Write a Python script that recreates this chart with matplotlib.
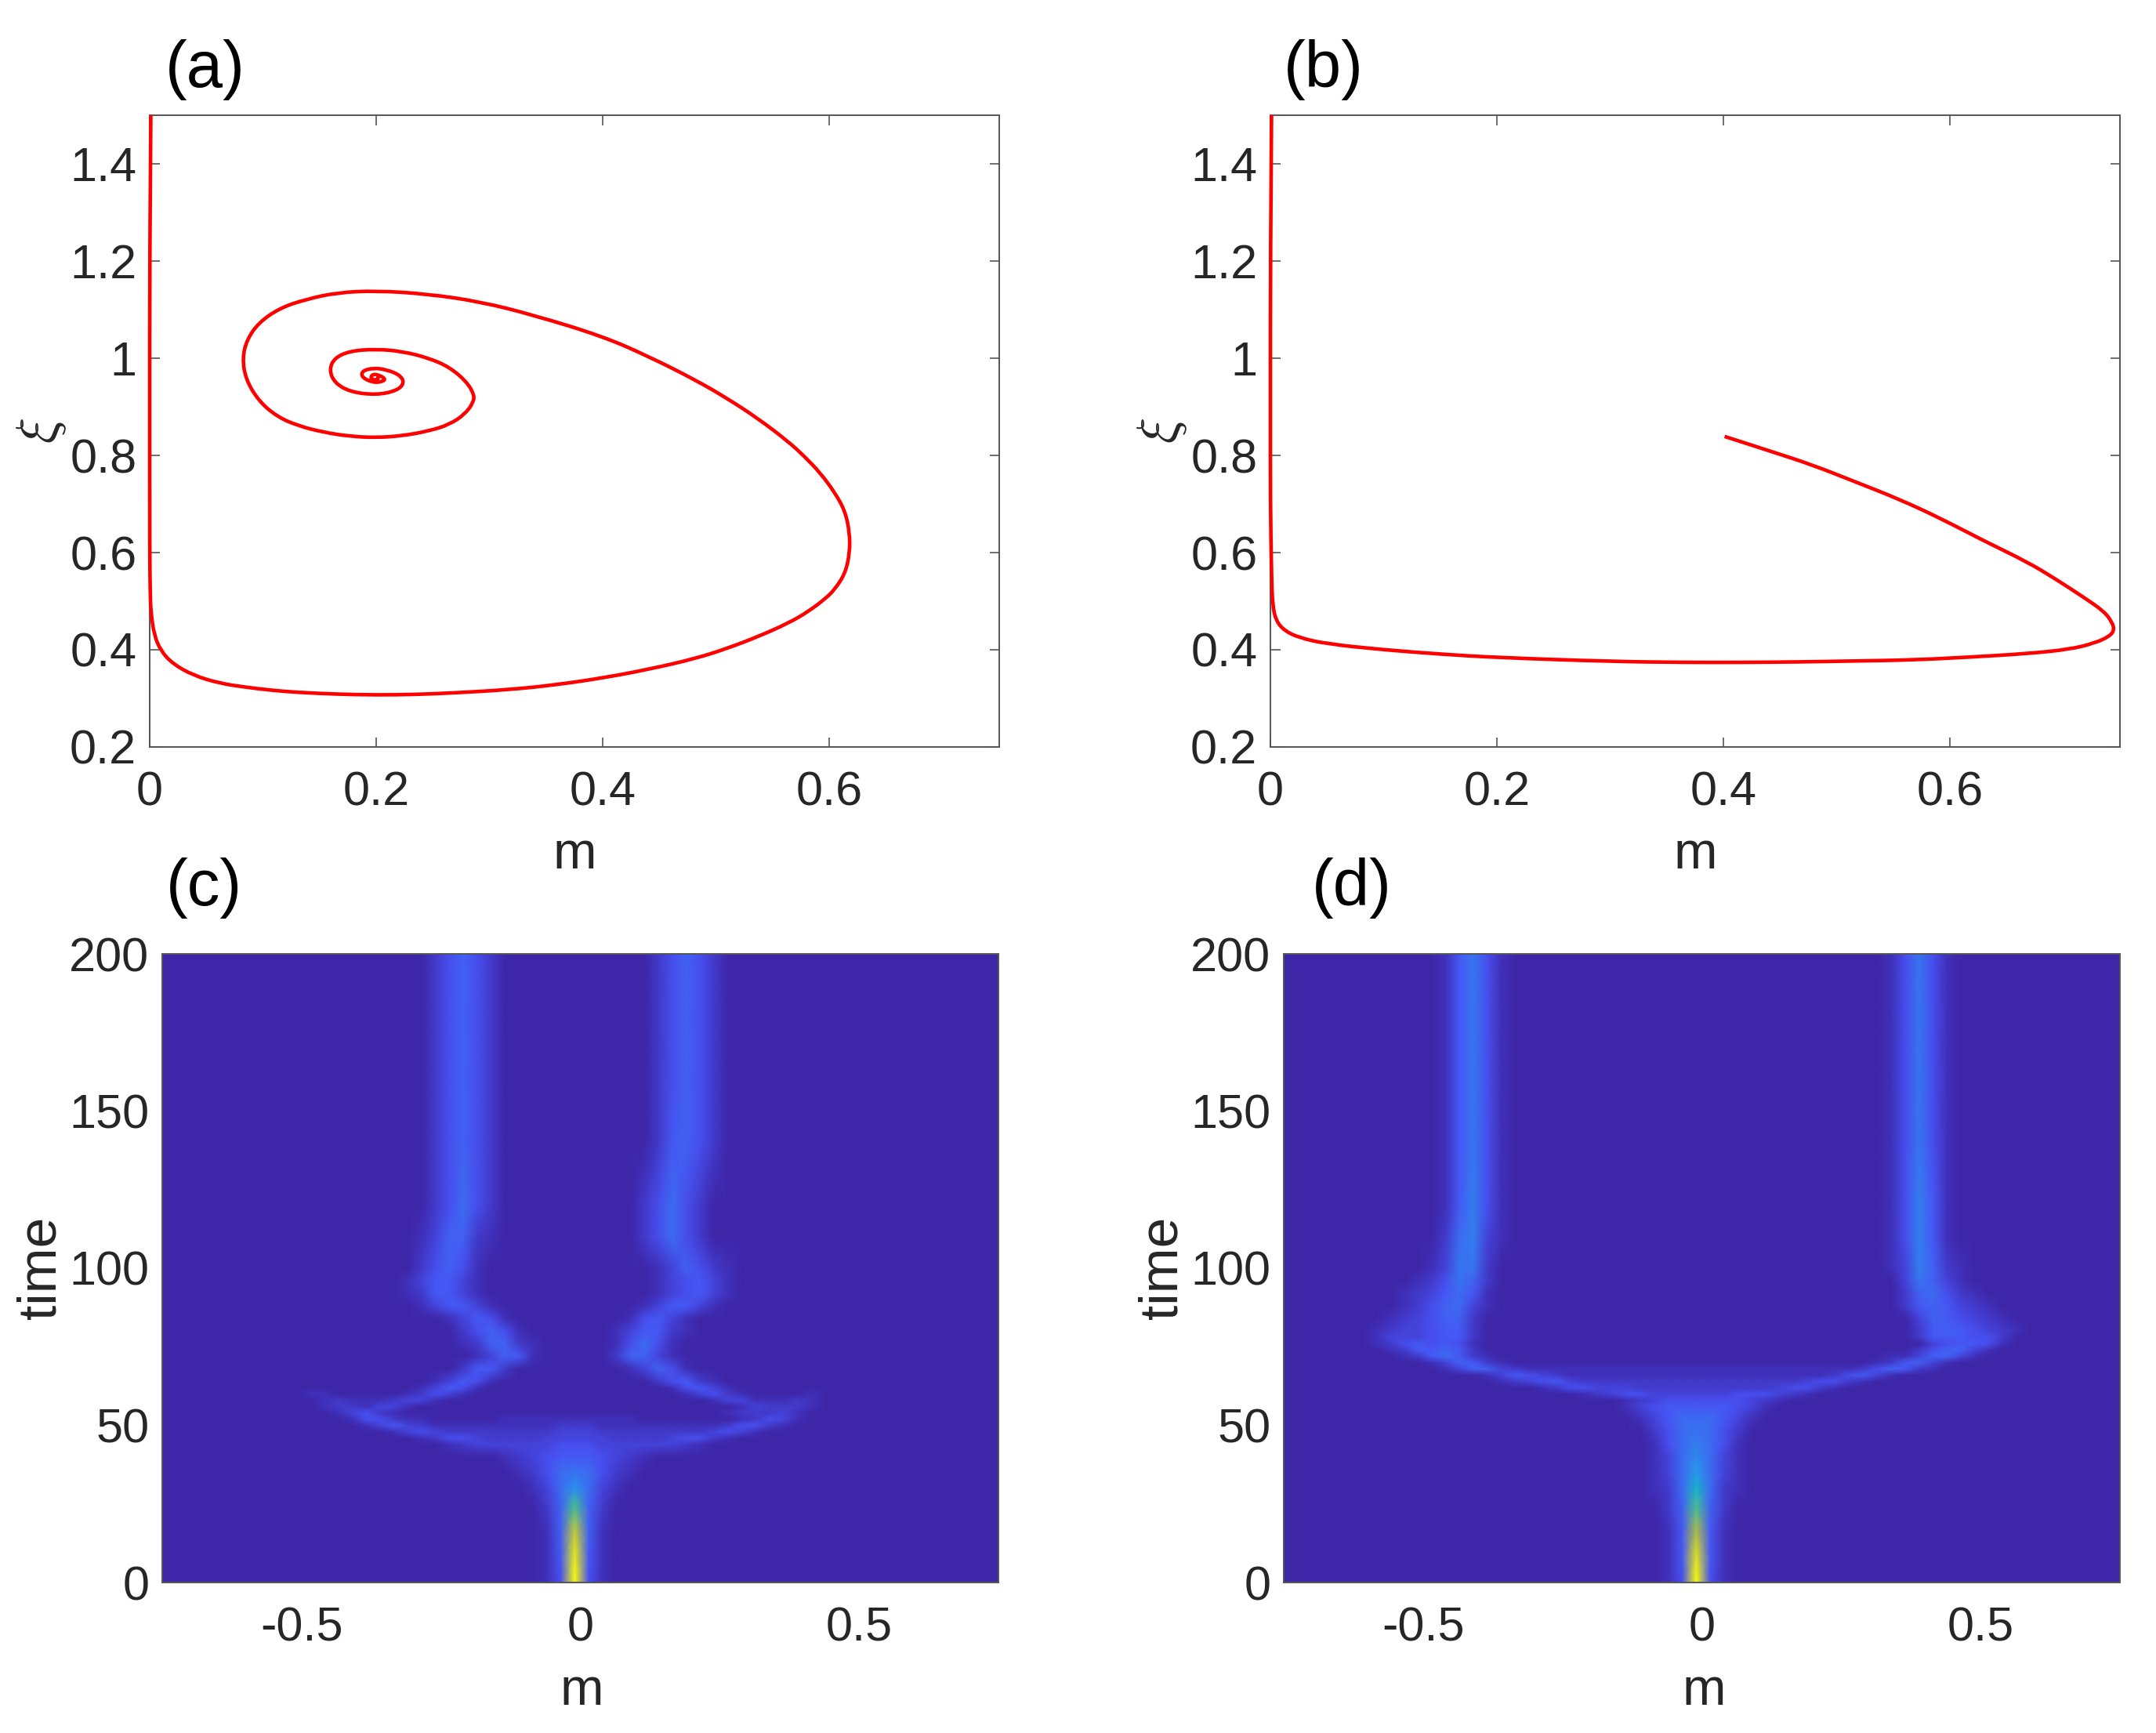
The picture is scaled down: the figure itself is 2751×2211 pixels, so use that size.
"""Four-panel figure: phase-plane spirals (a, b) and density heatmaps (c, d)."""
import numpy as np
import matplotlib
matplotlib.use("Agg")
import matplotlib.pyplot as plt
from matplotlib.colors import LinearSegmentedColormap
from matplotlib.patches import PathPatch
from matplotlib.path import Path

plt.rcParams["font.family"] = ["Liberation Sans", "DejaVu Sans"]
plt.rcParams["mathtext.fontset"] = "cm"

W, H = 2751, 2211
TXT = "#262626"
AXC = "#555555"

# phase-plane curves (a) and (b)
m_a = [0.001, 0.0, 0.0, 0.0, 0.0005, 0.001, 0.0039, 0.0097, 0.0201, 0.0385, 0.0616, 0.0846, 0.1077, 0.1308,
       0.1654, 0.20, 0.2346, 0.2692, 0.318, 0.359, 0.40, 0.441, 0.482, 0.51, 0.537, 0.564, 0.581, 0.597, 0.605,
       0.614, 0.618, 0.618, 0.614, 0.605, 0.592, 0.578, 0.564, 0.537, 0.51, 0.482, 0.441, 0.40, 0.3384, 0.2923,
       0.2461, 0.20, 0.1654, 0.1377, 0.1147, 0.0962, 0.0858, 0.0819, 0.0847, 0.0962, 0.1123, 0.1308, 0.1539,
       0.177, 0.20, 0.2231, 0.2461, 0.2646, 0.2784, 0.2858, 0.2865, 0.2796, 0.2646, 0.2461, 0.2231, 0.20, 0.177,
       0.1631, 0.1585, 0.1631, 0.177, 0.20, 0.2185, 0.2249, 0.2208, 0.2092, 0.1977, 0.1873, 0.1873, 0.1977,
       0.2058, 0.2081, 0.2023, 0.1965, 0.1949, 0.20, 0.2023, 0.20]
xi_a = [1.5, 1.2, 0.9, 0.6, 0.5166, 0.479, 0.4306, 0.3983, 0.3715, 0.3473, 0.3311, 0.323, 0.3166, 0.3123,
        0.3086, 0.307, 0.308, 0.3113, 0.318, 0.328, 0.342, 0.36, 0.382, 0.403, 0.427, 0.455, 0.478, 0.506, 0.525,
        0.557, 0.599, 0.64, 0.685, 0.723, 0.764, 0.798, 0.828, 0.876, 0.917, 0.955, 1.003, 1.045, 1.089, 1.116,
        1.132, 1.139, 1.135, 1.121, 1.103, 1.073, 1.038, 1.0005, 0.957, 0.912, 0.88, 0.861, 0.8473,
        0.8392, 0.8365, 0.8403, 0.85, 0.8634, 0.885, 0.9091, 0.9253, 0.9521, 0.9817, 1.0005, 1.014, 1.0188, 1.015,
        1.0005, 0.9763, 0.9495, 0.9306, 0.9242, 0.9333, 0.9495, 0.9656, 0.9763, 0.9801, 0.9737, 0.9602, 0.9495,
        0.9521, 0.9575, 0.9656, 0.9672, 0.9575, 0.9548, 0.9586, 0.9607]

m_b = [0.001, 0.0, 0.0, 0.0, 0.001, 0.002, 0.005, 0.012, 0.025, 0.05, 0.10, 0.15, 0.20, 0.30, 0.366, 0.416,
       0.467, 0.517, 0.567, 0.618, 0.668, 0.706, 0.728, 0.741, 0.745, 0.743, 0.736, 0.718, 0.693, 0.668, 0.63,
       0.592, 0.555, 0.517, 0.479, 0.441, 0.401]
xi_b = [1.5, 1.2, 0.9, 0.7, 0.55, 0.49, 0.46, 0.44, 0.425, 0.412, 0.40, 0.391, 0.384, 0.376, 0.374, 0.374,
        0.375, 0.377, 0.379, 0.385, 0.392, 0.401, 0.414, 0.428, 0.441, 0.457, 0.479, 0.508, 0.546, 0.581, 0.624,
        0.67, 0.71, 0.745, 0.78, 0.809, 0.839]

# density grids: one row per time, one base-36 digit per m column (blanks only group digits,
# missing digits on the right are background)
m_cols = [round(-0.66 + 0.025 * i, 3) for i in range(53)]

times_c = [0, 8, 16, 24, 30, 35, 40, 44, 46, 48, 50, 52, 54, 56, 58, 60, 62, 64, 68, 72, 76, 80, 84, 88, 92,
           96, 100, 110, 120, 140, 160, 180, 200]
density_c = [
    "00000 00000 00000 00000 00001 4z410",
    "00000 00000 00000 00000 00001 5x510",
    "00000 00000 00000 00000 00001 6t610",
    "00000 00000 00000 00000 00002 6m620",
    "00000 00000 00000 00000 00013 7b731",
    "00000 00000 00000 00000 00124 78742 1",
    "00000 00000 00000 00000 01234 55543 21",
    "00000 00000 00000 00123 33333 44433 33332 1",
    "00000 00000 00000 12443 22223 33332 22234 421",
    "00000 00000 00013 43222 22222 33322 22222 23431",
    "00000 00000 01353 21111 11111 22211 11111 11244 21",
    "00000 00000 14421 10000 01111 11111 10000 00012 43100",
    "00000 00001 34210 00000 00000 00000 00000 00122 23100",
    "00000 00012 21331 00000 00000 00000 00000 00013 22210",
    "00000 00012 11123 31000 00000 00000 00000 01331 11210",
    "00000 00110 00001 24310 00000 00000 00001 34210 00010",
    "00000 00000 00000 13541 00000 00000 00014 531",
    "00000 00000 00000 01354 10000 00000 00245 21",
    "00000 00000 00000 00025 52000 00000 13641",
    "00000 00000 00000 00001 36510 00002 66310",
    "00000 00000 00000 00012 66210 00001 47410",
    "00000 00000 00000 00024 64100 00001 35521",
    "00000 00000 00000 00135 41000 00000 14531",
    "00000 00000 00000 13553 10000 00000 01355 31",
    "00000 00000 00001 25531 00000 00000 00134 531",
    "00000 00000 00001 35531 00000 00000 00134 531",
    "00000 00000 00000 24641 00000 00000 00136 421",
    "00000 00000 00000 13662 10000 00000 02474 2",
    "00000 00000 00000 02474 20000 00000 02474 2",
    "00000 00000 00000 02464 20000 00000 00256 42",
    "00000 00000 00000 02464 20000 00000 00246 42",
    "00000 00000 00000 02464 20000 00000 00246 42",
    "00000 00000 00000 02464 20000 00000 00246 42",
]

times_d = [0, 8, 16, 24, 30, 35, 40, 44, 48, 52, 56, 58, 60, 62, 64, 66, 68, 70, 72, 74, 76, 78, 80, 84, 88,
           92, 96, 100, 110, 120, 140, 160, 180, 200]
density_d = [
    "00000 00000 00000 00000 00001 4z410",
    "00000 00000 00000 00000 00001 5w510",
    "00000 00000 00000 00000 00001 5r510",
    "00000 00000 00000 00000 00002 6m620",
    "00000 00000 00000 00000 00012 7h721",
    "00000 00000 00000 00000 00013 7c731",
    "00000 00000 00000 00000 00013 7a731",
    "00000 00000 00000 00000 00014 79741",
    "00000 00000 00000 00000 00024 78742",
    "00000 00000 00000 00000 00135 77753 1",
    "00000 00000 00000 00000 01345 55554 31",
    "00000 00000 00000 00000 01234 44444 321",
    "00000 00000 00000 00012 34433 33334 44321",
    "00000 00000 00000 12443 33222 22222 22344 21",
    "00000 00000 00123 45322 22222 22222 22223 44210",
    "00000 00000 01354 32111 11111 11111 11111 12453 1",
    "00000 00013 66321 11111 11111 11111 11111 11124 65210",
    "00000 00136 52100 00000 00000 00000 00000 00001 25631",
    "00000 12575 21000 00000 00000 00000 00000 00000 11366 31",
    "00001 25565 20000 00000 00000 00000 00000 00000 00246 631",
    "00012 45454 10000 00000 00000 00000 00000 00000 00034 55410",
    "00013 33455 20000 00000 00000 00000 00000 00000 00255 54420",
    "00012 33455 20000 00000 00000 00000 00000 00000 00256 54321",
    "00001 23466 20000 00000 00000 00000 00000 00000 00365 43210",
    "00000 12467 31000 00000 00000 00000 00000 00000 02565 32100",
    "00000 12357 51000 00000 00000 00000 00000 00000 02674 21",
    "00000 01248 62000 00000 00000 00000 00000 00000 03863 1",
    "00000 00138 82000 00000 00000 00000 00000 00000 13962 1",
    "00000 00027 93100 00000 00000 00000 00000 00000 14951",
    "00000 00015 94100 00000 00000 00000 00000 00000 14951",
    "00000 00015 84100 00000 00000 00000 00000 00000 14841",
    "00000 00015 84100 00000 00000 00000 00000 00000 14841",
    "00000 00015 84100 00000 00000 00000 00000 00000 14841",
    "00000 00015 84100 00000 00000 00000 00000 00000 14841",
]

parula = LinearSegmentedColormap.from_list("parula_like", [
    (0.0, (0.2422, 0.1504, 0.6603)),
    (0.125, (0.2810, 0.3228, 0.9579)),
    (0.33, (0.1540, 0.5902, 0.9218)),
    (0.55, (0.0704, 0.7457, 0.7258)),
    (0.78, (0.7000, 0.7500, 0.2500)),
    (1.0, (0.9763, 0.9831, 0.0538)),
])


def decode(rows):
    grid = [[int(c, 36) for c in r.replace(" ", "").ljust(len(m_cols), "0")] for r in rows]
    return np.array(grid, dtype=float)


def smooth_path(xs, ys):
    # quadratic segments with the read points as control points, so the line has no corners
    p = np.column_stack([xs, ys])
    verts = [p[0]]
    codes = [Path.MOVETO]
    for k in range(1, len(p) - 1):
        end = p[k + 1] if k == len(p) - 2 else (p[k] + p[k + 1]) / 2
        verts += [p[k], end]
        codes += [Path.CURVE3, Path.CURVE3]
    return Path(verts, codes)


def make_axes(left, top, right, bottom):
    return fig.add_axes([left / W, 1 - bottom / H, (right - left) / W, (bottom - top) / H])


def style(ax, xpad, ypad):
    for s in ax.spines.values():
        s.set_color(AXC)
        s.set_linewidth(1.4)
    ax.tick_params(direction="in", top=True, right=True, length=9, width=1.2, color=AXC)
    ax.tick_params(axis="x", pad=xpad, labelsize=SIZE, labelcolor=TXT)
    ax.tick_params(axis="y", pad=ypad, labelsize=SIZE, labelcolor=TXT)


def label(x, y, s, size=None, **kw):
    fig.text(x / W, 1 - y / H, s, fontsize=size or SIZE, ha="center", va="center", **kw)


SIZE = 44
fig = plt.figure(figsize=(W / 100, H / 100), dpi=100)

# ----------------------------------------------------------------------
# top row: phase plane
# ----------------------------------------------------------------------
top_boxes = [(191, 147, 1275, 953), (1621, 147, 2705, 953)]
for box, mx, xi in zip(top_boxes, [m_a, m_b], [xi_a, xi_b]):
    ax = make_axes(*box)
    ax.add_patch(PathPatch(smooth_path(mx, xi), fill=False, ec="#ff0000", lw=3.3,
                           clip_on=False, zorder=5))
    ax.set_xlim(0, 0.75)
    ax.set_ylim(0.2, 1.5)
    ax.set_xticks([0, 0.2, 0.4, 0.6])
    ax.set_xticklabels(["0", "0.2", "0.4", "0.6"])
    ax.set_yticks([0.2, 0.4, 0.6, 0.8, 1.0, 1.2, 1.4])
    ax.set_yticklabels(["0.2", "0.4", "0.6", "0.8", "1", "1.2", "1.4"])
    style(ax, 22, 12)

# ----------------------------------------------------------------------
# bottom row: density heatmaps
# ----------------------------------------------------------------------
bottom_boxes = [(207, 1217, 1274, 2019), (1638, 1217, 2705, 2019)]
for box, t, rows in zip(bottom_boxes, [times_c, times_d], [density_c, density_d]):
    ax = make_axes(*box)
    ax.set_facecolor(parula(0.0))
    ax.pcolormesh(m_cols, t, decode(rows), cmap=parula, vmin=0, vmax=35,
                  shading="gouraud", rasterized=True)
    ax.set_xlim(-0.75, 0.75)
    ax.set_ylim(0, 200)
    ax.set_xticks([-0.5, 0, 0.5])
    ax.set_xticklabels(["-0.5", "0", "0.5"])
    ax.set_yticks([0, 50, 100, 150, 200])
    style(ax, 22, 12)
    ax.tick_params(length=0)

# ----------------------------------------------------------------------
# labels
# ----------------------------------------------------------------------
label(733, 1091, "m", size=48, color=TXT)
label(2163, 1091, "m", size=48, color=TXT)
label(742, 2158, "m", size=48, color=TXT)
label(2174, 2158, "m", size=48, color=TXT)
label(53, 1617, "time", size=50, rotation=90, color=TXT)
label(1483, 1617, "time", size=50, rotation=90, color=TXT)
label(53, 550, r"$\xi$", size=50, rotation=90, color=TXT)
label(1483, 550, r"$\xi$", size=50, rotation=90, color=TXT)
label(262, 89, "(a)", size=60, color="black")
label(1689, 89, "(b)", size=60, color="black")
label(260, 1133, "(c)", size=60, color="black")
label(1725, 1133, "(d)", size=60, color="black")

fig.savefig("out.png", dpi=100)
plt.close(fig)
print("wrote out.png")
